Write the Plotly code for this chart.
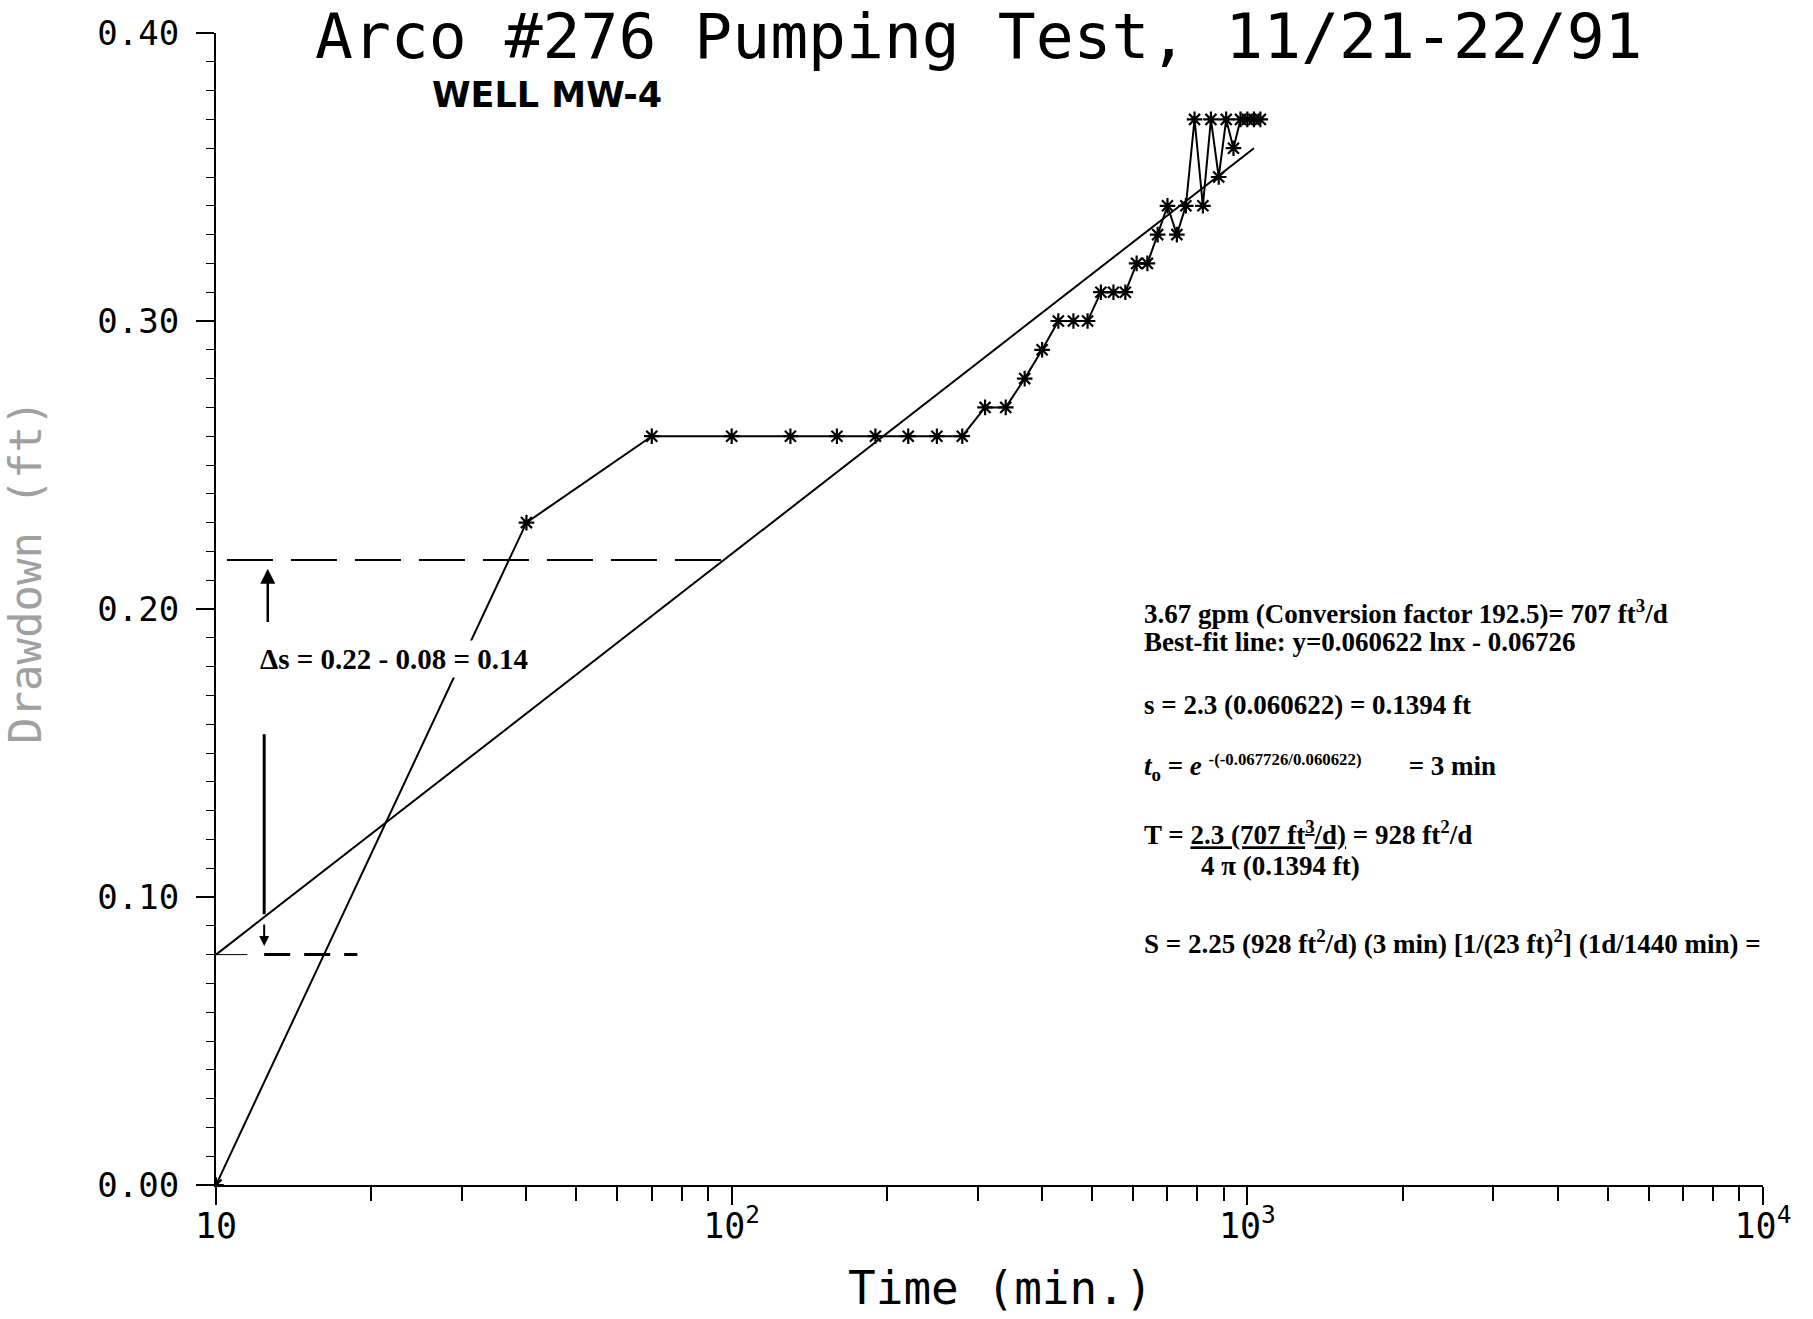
import numpy as np
import plotly.graph_objects as go

# ---------------- data ----------------
time_min = [10, 40, 70, 100, 130, 160, 190, 220, 250, 280, 310, 340, 370, 400,
            430, 460, 490, 520, 550, 580, 610, 640, 670, 700, 730, 760, 790,
            820, 850, 880, 910, 940, 970, 1000, 1030, 1060]
drawdown_ft = [0.00, 0.23, 0.26, 0.26, 0.26, 0.26, 0.26, 0.26, 0.26, 0.26,
               0.27, 0.27, 0.28, 0.29, 0.30, 0.30, 0.30, 0.31, 0.31, 0.31,
               0.32, 0.32, 0.33, 0.34, 0.33, 0.34, 0.37, 0.34, 0.37, 0.35,
               0.37, 0.36, 0.37, 0.37, 0.37, 0.37]

fit_time = [10, 1030]
fit_drawdown = [0.08, 0.36]

upper_guide_time = [10.5, 96]
upper_guide_level = [0.217, 0.217]
lower_stub_time = [10, 11.5]
lower_guide_time = [12.4, 18.8]
lower_guide_level = [0.08, 0.08]

up_arrow_time = 12.6
up_arrow_range = [0.195, 0.214]
down_arrow_time = 12.4
down_arrow_range = [0.157, 0.094]
down_head_range = [0.091, 0.083]

x_tick_vals = [10, 100, 1000, 10000]
x_tick_text = ["10", "10<sup>2</sup>", "10<sup>3</sup>", "10<sup>4</sup>"]
y_tick_vals = [0.0, 0.1, 0.2, 0.3, 0.4]
y_tick_text = ["0.00", "0.10", "0.20", "0.30", "0.40"]

x_minor = [m * 10 ** k for k in range(1, 4) for m in range(2, 10)]
y_minor = [round(i * 0.01, 2) for i in range(0, 41)]

# ---------------- layout geometry ----------------
W, H = 1813, 1319
L, R, T, B = 216, 50, 33, 134
PW = W - L - R
PH = H - T - B


def px_x(px):
    return (px - L) / PW


def px_y(py):
    return (H - B - py) / PH


HERSHEY = "DejaVu Sans Mono"
SERIF = "Liberation Serif"
NB = "\u00a0"

fig = go.Figure()

# best fit line
fig.add_trace(go.Scatter(x=fit_time, y=fit_drawdown, mode="lines",
                         line=dict(color="black", width=2), showlegend=False))
# guide lines
fig.add_trace(go.Scatter(x=upper_guide_time, y=upper_guide_level, mode="lines",
                         line=dict(color="black", width=2, dash="46px,18px"),
                         showlegend=False))
fig.add_trace(go.Scatter(x=lower_stub_time, y=lower_guide_level, mode="lines",
                         line=dict(color="black", width=1), showlegend=False))
fig.add_trace(go.Scatter(x=lower_guide_time, y=lower_guide_level, mode="lines",
                         line=dict(color="black", width=3, dash="26px,14px"),
                         showlegend=False))
# data
fig.add_trace(go.Scatter(x=time_min, y=drawdown_ft, mode="lines+markers",
                         line=dict(color="black", width=2),
                         marker=dict(symbol="asterisk-open", size=13,
                                     color="black",
                                     line=dict(color="black", width=2.2)),
                         showlegend=False))

annotations = []

# Title
annotations.append(dict(
    text="Arco #276 Pumping Test, 11/21-22/91",
    xref="paper", yref="paper", x=px_x(979), y=px_y(37),
    xanchor="center", yanchor="middle", showarrow=False,
    font=dict(family=HERSHEY, size=63, color="black")))

# axis titles
annotations.append(dict(
    text="Time (min.)", xref="paper", yref="paper",
    x=px_x(1000), y=px_y(1288), xanchor="center", yanchor="middle",
    showarrow=False, font=dict(family=HERSHEY, size=46, color="black")))
annotations.append(dict(
    text="Drawdown (ft)", xref="paper", yref="paper",
    x=px_x(25), y=px_y(572), xanchor="center", yanchor="middle",
    textangle=-90, showarrow=False,
    font=dict(family=HERSHEY, size=44, color="#a0a0a0")))

# Well label
annotations.append(dict(
    text="<b>WELL MW-4</b>", xref="paper", yref="paper",
    x=px_x(430), y=px_y(95), xanchor="left", yanchor="middle",
    showarrow=False, font=dict(family="DejaVu Sans", size=35, color="black")))

# delta-s label
annotations.append(dict(
    text="<b>\u0394s = 0.22 - 0.08 = 0.14</b>", xref="paper", yref="paper",
    x=px_x(257), y=px_y(659), xanchor="left", yanchor="middle",
    showarrow=False, bgcolor="white", borderpad=2,
    font=dict(family=SERIF, size=29, color="black")))

# arrows
annotations.append(dict(
    x=np.log10(up_arrow_time), y=up_arrow_range[1],
    ax=np.log10(up_arrow_time), ay=up_arrow_range[0],
    xref="x", yref="y", axref="x", ayref="y", text="",
    showarrow=True, arrowhead=2, arrowsize=1.2, arrowwidth=2.5,
    arrowcolor="black"))
annotations.append(dict(
    x=np.log10(down_arrow_time), y=down_arrow_range[1],
    ax=np.log10(down_arrow_time), ay=down_arrow_range[0],
    xref="x", yref="y", axref="x", ayref="y", text="",
    showarrow=True, arrowhead=0, arrowwidth=3,
    arrowcolor="black"))
annotations.append(dict(
    x=np.log10(down_arrow_time), y=down_head_range[1],
    ax=np.log10(down_arrow_time), ay=down_head_range[0],
    xref="x", yref="y", axref="x", ayref="y", text="",
    showarrow=True, arrowhead=2, arrowsize=1.0, arrowwidth=2,
    arrowcolor="black"))

# calculation block
calc_lines = [
    ("3.67 gpm (Conversion factor 192.5)= 707 ft<sup>3</sup>/d", 1142, 612),
    ("Best-fit line: y=0.060622 lnx - 0.06726", 1142, 642),
    ("s = 2.3 (0.060622) = 0.1394 ft", 1142, 705),
    ("<i>t</i><sub>o</sub> = <i>e</i> <span style='font-size:24px'>"
     "<sup>-(-0.067726/0.060622)</sup></span>" + NB * 7 + "= 3 min", 1142, 768),
    ("T = <u>2.3 (707 ft<sup>3</sup>/d)</u> = 928 ft<sup>2</sup>/d", 1142, 833),
    ("4 \u03c0 (0.1394 ft)", 1199, 866),
    ("S = 2.25 (928 ft<sup>2</sup>/d) (3 min) [1/(23 ft)<sup>2</sup>] "
     "(1d/1440 min) =", 1142, 942),
]
for txt, px, py in calc_lines:
    annotations.append(dict(
        text="<b>" + txt + "</b>", xref="paper", yref="paper",
        x=px_x(px), y=px_y(py), xanchor="left", yanchor="middle",
        showarrow=False, font=dict(family=SERIF, size=27, color="black")))

fig.update_layout(
    width=W, height=H, autosize=False,
    margin=dict(l=L, r=R, t=T, b=B, pad=0),
    paper_bgcolor="white", plot_bgcolor="white",
    annotations=annotations,
    xaxis=dict(type="log", range=[1, 4], showgrid=False, zeroline=False,
               showline=True, linecolor="black", linewidth=2,
               ticks="outside", ticklen=18, tickwidth=2, tickcolor="black",
               tickvals=x_tick_vals, ticktext=x_tick_text,
               ticklabelstandoff=-9,
               tickfont=dict(family=HERSHEY, size=35, color="black"),
               minor=dict(tickvals=x_minor, ticks="outside", ticklen=14,
                          tickwidth=1.5, tickcolor="black", showgrid=False)),
    yaxis=dict(range=[0, 0.4], showgrid=False, zeroline=False,
               showline=True, linecolor="black", linewidth=2,
               ticks="outside", ticklen=18, tickwidth=1.5, tickcolor="black",
               tickvals=y_tick_vals, ticktext=y_tick_text,
               ticklabelstandoff=10,
               tickfont=dict(family=HERSHEY, size=34, color="black"),
               minor=dict(tickvals=y_minor, ticks="outside", ticklen=8,
                          tickwidth=1.2, tickcolor="black", showgrid=False)),
)

fig.write_html("out.html")
